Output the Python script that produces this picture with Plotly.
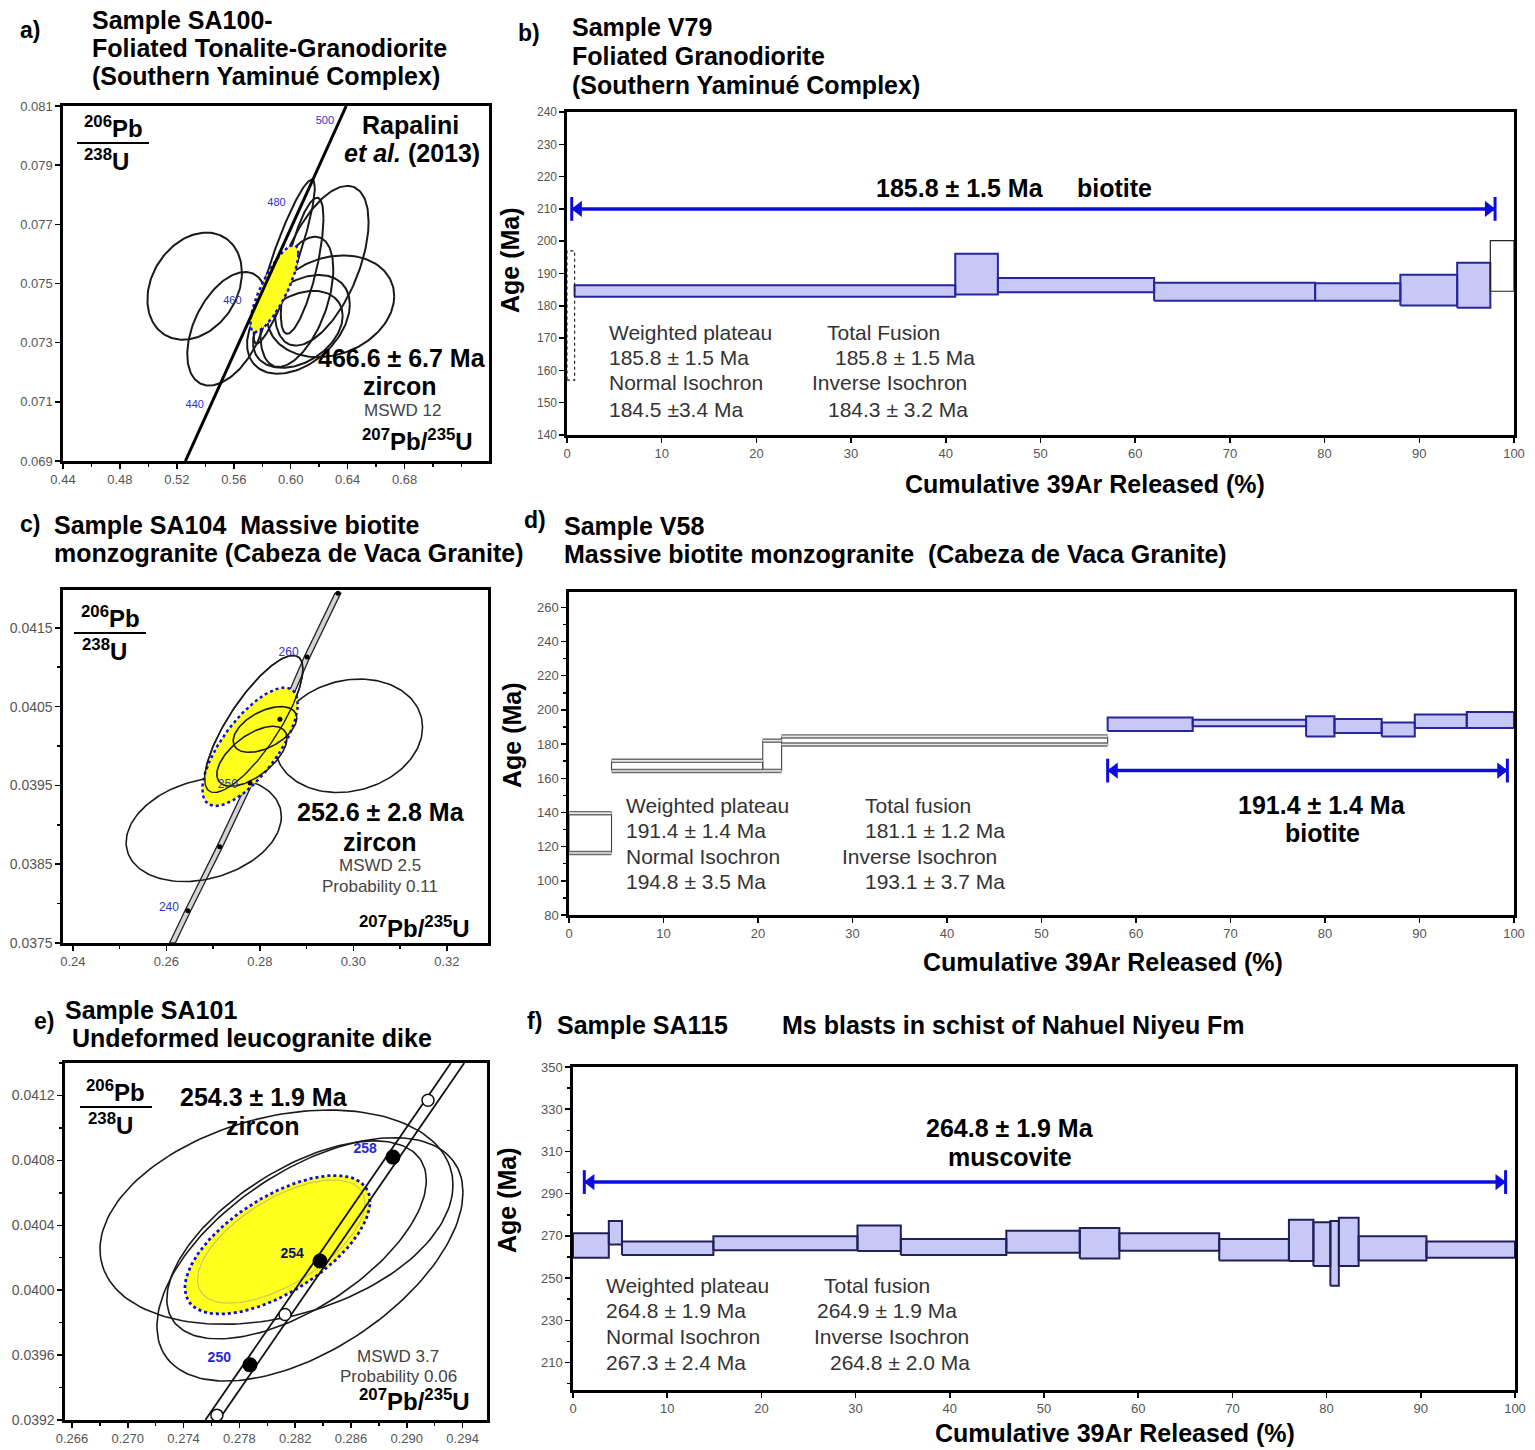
import numpy as np
import plotly.graph_objects as go

W, H = 1535, 1450

# ====================== DATA ======================
# ---- (a) SA100 U-Pb concordia ----
a_conc_x = [0.526, 0.639]
a_conc_y = [0.0690, 0.0810]
a_age_labels = ["440", "460", "480", "500"]
a_age_x = [0.5326, 0.559, 0.590, 0.624]
a_age_y = [0.0709, 0.0744, 0.0777, 0.0805]
a_ell_cx = [0.5325, 0.5553, 0.5954, 0.6217, 0.6080, 0.6280, 0.6043, 0.6054, 0.6050]
a_ell_cy = [0.07491, 0.07347, 0.07574, 0.07560, 0.07560, 0.07423, 0.07438, 0.07362, 0.07345]
a_ell_sx = [0.0332, 0.0280, 0.0215, 0.0330, 0.0150, 0.0447, 0.0256, 0.0361, 0.0315]
a_ell_sy = [0.00181, 0.00192, 0.00277, 0.00270, 0.00230, 0.00172, 0.00220, 0.00167, 0.00130]
a_ell_rho = [0.25, 0.45, 0.90, 0.55, 0.70, 0.20, 0.50, 0.40, 0.35]
a_mean = [0.5885, 0.07483, 0.0169, 0.00147, 0.80]

# ---- (b) V79 Ar-Ar spectrum ----
b_edges = [0, 0.8, 41, 45.5, 62, 79, 88, 94, 97.5, 100]
b_lo = [157, 182.8, 183.5, 184.2, 181.6, 181.6, 180.1, 179.4, 184.5]
b_hi = [197, 186.4, 196.1, 188.6, 187.1, 187.0, 189.6, 193.3, 200.2]
b_plateau_steps = [1, 2, 3, 4, 5, 6, 7]
b_plat_x = [0.5, 98.0]
b_plat_age = 210

# ---- (c) SA104 U-Pb concordia ----
c_conc_x = [0.2613, 0.2646, 0.2714, 0.2779, 0.2843, 0.2901, 0.2967]
c_conc_y = [0.0375, 0.03791, 0.03872, 0.03953, 0.04034, 0.04113, 0.04194]
c_dot_x = [0.2646, 0.2714, 0.2779, 0.2843, 0.2901, 0.2967]
c_dot_y = [0.03791, 0.03872, 0.03953, 0.04034, 0.04113, 0.04194]
c_age_labels = ["240", "250", "260"]
c_age_x = [0.2627, 0.2753, 0.2883]
c_age_y = [0.03794, 0.03950, 0.04118]
c_ell_cx = [0.2990, 0.2680, 0.2787, 0.2811, 0.2783]
c_ell_cy = [0.04013, 0.03894, 0.04028, 0.04021, 0.03987]
c_ell_sx = [0.0158, 0.0166, 0.0105, 0.0068, 0.0075]
c_ell_sy = [0.00072, 0.00066, 0.00087, 0.00029, 0.00038]
c_ell_rho = [0.15, 0.25, 0.80, 0.50, 0.60]
c_mean = [0.2779, 0.03999, 0.0102, 0.00075, 0.72]

# ---- (d) V58 Ar-Ar spectrum ----
d_edges = [0, 4.5, 20.5, 22.5, 57, 66, 78, 81, 86, 89.5, 95, 100]
d_lo = [116.3, 164.3, 164.3, 179.8, 187.7, 190.4, 184.5, 186.5, 184.5, 189.4, 189.4]
d_hi = [139.6, 170.2, 182.0, 184.5, 195.6, 194.3, 196.3, 194.7, 192.7, 197.3, 198.8]
d_plateau_steps = [4, 5, 6, 7, 8, 9, 10]
d_plat_x = [57.0, 99.3]
d_plat_age = 164.5

# ---- (e) SA101 U-Pb concordia ----
e_conc_x = [0.27604, 0.29364]
e_conc_y = [0.0392, 0.0414]
e_full_x = [0.27876, 0.28378, 0.28901]
e_full_y = [0.03954, 0.04018, 0.04082]
e_full_labels = ["250", "254", "258"]
e_open_x = [0.27639, 0.28127, 0.29152]
e_open_y = [0.03923, 0.03985, 0.04117]
e_ell_cx = [0.28066, 0.28306, 0.28210, 0.28100]
e_ell_cy = [0.04045, 0.04019, 0.04031, 0.04030]
e_ell_sx = [0.01265, 0.01097, 0.00930, 0.00600]
e_ell_sy = [0.00066, 0.00075, 0.00061, 0.00038]
e_ell_rho = [0.30, 0.55, 0.60, 0.62]
e_mean = [0.28073, 0.04028, 0.00663, 0.000427, 0.62]

# ---- (f) SA115 Ar-Ar spectrum ----
f_edges = [0, 3.8, 5.2, 14.9, 30.2, 34.8, 46, 53.8, 58, 68.6, 76, 78.6, 80.4, 81.3, 83.4, 90.6, 100]
f_lo = [259.6, 265.9, 260.9, 263.2, 262.8, 260.9, 262.0, 259.3, 263.0, 258.4, 258.1, 255.7, 246.4, 255.7, 258.4, 259.6]
f_hi = [271.3, 277.1, 267.4, 269.8, 274.9, 268.5, 272.4, 273.7, 271.3, 268.5, 277.6, 276.5, 277.1, 278.6, 269.8, 267.4]
f_plat_x = [1.2, 99.0]
f_plat_age = 295.5

# ====================== STYLE ======================
BLUE = "#0c0ce0"
NAVY = "#26269a"
LAV = "rgba(200,200,246,1)"
YEL = "#ffff1e"
FONT = "Liberation Sans, Arial, sans-serif"

fig = go.Figure()

# panel pixel boxes: (x0, x1, y0, y1)
boxes = {
    1: (63, 489, 106, 461),
    2: (567, 1514, 112, 435),
    3: (63, 488, 590, 943),
    4: (569, 1514, 592, 915),
    5: (65, 487, 1063, 1420),
    6: (573, 1515, 1067, 1390),
}


def axn(n, kind):
    return kind if n == 1 else f"{kind}{n}"


def ellipse(cx, cy, sx, sy, rho, n=160):
    t = np.linspace(0, 2 * np.pi, n)
    x = cx + sx * np.cos(t)
    y = cy + sy * (rho * np.cos(t) + np.sqrt(1 - rho ** 2) * np.sin(t))
    return x, y


def add(n, **kw):
    kw.setdefault("showlegend", False)
    kw.setdefault("hoverinfo", "skip")
    fig.add_trace(go.Scatter(xaxis=axn(n, "x"), yaxis=axn(n, "y"), **kw))


def steps_poly(edges, lo, hi, idx):
    xs, ys = [], []
    for i in idx:
        x0, x1 = edges[i], edges[i + 1]
        xs += [x0, x1, x1, x0, x0, None]
        ys += [lo[i], lo[i], hi[i], hi[i], lo[i], None]
    return xs, ys


def steps_horiz(edges, lo, hi, idx):
    xs, ys = [], []
    for i in idx:
        x0, x1 = edges[i], edges[i + 1]
        xs += [x0, x1, None, x0, x1, None]
        ys += [lo[i], lo[i], None, hi[i], hi[i], None]
    return xs, ys


def plateau_arrow(n, xr, y):
    add(n, x=xr, y=[y, y], mode="lines", line=dict(color=BLUE, width=3.5))
    span = 0.7
    add(n, x=[xr[0] + span, xr[1] - span], y=[y, y], mode="markers",
        marker=dict(symbol=["triangle-left", "triangle-right"], size=14, color=BLUE))
    add(n, x=xr, y=[y, y], mode="markers",
        marker=dict(symbol="line-ns", size=17, line=dict(color=BLUE, width=3)))


# ---------------- (a) ----------------
for cx, cy, sx, sy, r in zip(a_ell_cx, a_ell_cy, a_ell_sx, a_ell_sy, a_ell_rho):
    ex, ey = ellipse(cx, cy, sx, sy, r)
    add(1, x=ex, y=ey, mode="lines", line=dict(color="#1a1a1a", width=2))
ex, ey = ellipse(*a_mean)
add(1, x=ex, y=ey, mode="lines", fill="toself", fillcolor=YEL, line=dict(color=BLUE, width=2.5, dash="dot"))
add(1, x=a_conc_x, y=a_conc_y, mode="lines", line=dict(color="black", width=3))

# ---------------- (b) ----------------
xs, ys = steps_poly(b_edges, b_lo, b_hi, b_plateau_steps)
add(2, x=xs, y=ys, mode="lines", fill="toself", fillcolor=LAV, line=dict(color=NAVY, width=2))
xs, ys = steps_poly(b_edges, b_lo, b_hi, [0])
add(2, x=xs, y=ys, mode="lines", line=dict(color="#222", width=1.2, dash="dot"))
xs, ys = steps_poly(b_edges, b_lo, b_hi, [8])
add(2, x=xs, y=ys, mode="lines", line=dict(color="#222", width=1.2))
plateau_arrow(2, b_plat_x, b_plat_age)

# ---------------- (c) ----------------
cx_arr = np.array(c_conc_x)
cy_arr = np.array(c_conc_y)
off = 0.00062
add(3, x=list(cx_arr - off) + list((cx_arr + off)[::-1]) + [cx_arr[0] - off],
    y=list(cy_arr) + list(cy_arr[::-1]) + [cy_arr[0]],
    mode="lines", fill="toself", fillcolor="#d4d4d4", line=dict(color="#222", width=1.3))
for cx, cy, sx, sy, r in zip(c_ell_cx[:3], c_ell_cy[:3], c_ell_sx[:3], c_ell_sy[:3], c_ell_rho[:3]):
    ex, ey = ellipse(cx, cy, sx, sy, r)
    add(3, x=ex, y=ey, mode="lines", line=dict(color="#1a1a1a", width=1.6))
ex, ey = ellipse(*c_mean)
add(3, x=ex, y=ey, mode="lines", fill="toself", fillcolor=YEL, line=dict(color=BLUE, width=2.5, dash="dot"))
for cx, cy, sx, sy, r in zip(c_ell_cx[3:], c_ell_cy[3:], c_ell_sx[3:], c_ell_sy[3:], c_ell_rho[3:]):
    ex, ey = ellipse(cx, cy, sx, sy, r)
    add(3, x=ex, y=ey, mode="lines", line=dict(color="#1a1a1a", width=1.6))
ex, ey = ellipse(c_ell_cx[2], c_ell_cy[2], c_ell_sx[2], c_ell_sy[2], c_ell_rho[2])
add(3, x=ex, y=ey, mode="lines", line=dict(color="#1a1a1a", width=1.4))
add(3, x=c_dot_x, y=c_dot_y, mode="markers", marker=dict(color="black", size=5))
add(3, x=c_age_x, y=c_age_y, mode="text", text=c_age_labels, textposition="middle left",
    textfont=dict(color="#3030d0", size=12, family=FONT))

# ---------------- (d) ----------------
gray_steps = [0, 1, 2, 3]
xs, ys = steps_poly(d_edges, d_lo, d_hi, gray_steps)
add(4, x=xs, y=ys, mode="lines", line=dict(color="#444", width=1.1))
xs, ys = steps_horiz(d_edges, d_lo, d_hi, gray_steps)
add(4, x=xs, y=ys, mode="lines", line=dict(color="#6a6a6a", width=4.5))
add(4, x=xs, y=ys, mode="lines", line=dict(color="#e8e8e8", width=1.6))
xs, ys = steps_poly(d_edges, d_lo, d_hi, d_plateau_steps)
add(4, x=xs, y=ys, mode="lines", fill="toself", fillcolor=LAV, line=dict(color=NAVY, width=2))
plateau_arrow(4, d_plat_x, d_plat_age)

# ---------------- (e) ----------------
for cx, cy, sx, sy, r in zip(e_ell_cx[:3], e_ell_cy[:3], e_ell_sx[:3], e_ell_sy[:3], e_ell_rho[:3]):
    ex, ey = ellipse(cx, cy, sx, sy, r)
    add(5, x=ex, y=ey, mode="lines", line=dict(color="#1a1a1a", width=1.6))
ex, ey = ellipse(*e_mean)
add(5, x=ex, y=ey, mode="lines", fill="toself", fillcolor=YEL, line=dict(color=BLUE, width=2.8, dash="dot"))
ex, ey = ellipse(e_ell_cx[3], e_ell_cy[3], e_ell_sx[3], e_ell_sy[3], e_ell_rho[3])
add(5, x=ex, y=ey, mode="lines", line=dict(color="#c8c860", width=1.2))
ex_arr = np.array(e_conc_x)
ey_arr = np.array(e_conc_y)
eoff = 0.00048
add(5, x=list(ex_arr - eoff), y=list(ey_arr), mode="lines", line=dict(color="#111", width=1.8))
add(5, x=list(ex_arr + eoff), y=list(ey_arr), mode="lines", line=dict(color="#111", width=1.8))
add(5, x=e_open_x, y=e_open_y, mode="markers",
    marker=dict(color="white", size=12, line=dict(color="#111", width=1.5)))
add(5, x=e_full_x, y=e_full_y, mode="markers", marker=dict(color="black", size=15))
add(5, x=[e_full_x[0] - 0.0022, e_full_x[1] - 0.0020, e_full_x[2] - 0.0020],
    y=[e_full_y[0] + 0.00004, e_full_y[1] + 0.00004, e_full_y[2] + 0.00005], mode="text",
    text=["<b>%s</b>" % s for s in e_full_labels],
    textfont=dict(color=["#2828d0", "#101060", "#2828d0"], size=14, family=FONT))

# ---------------- (f) ----------------
xs, ys = steps_poly(f_edges, f_lo, f_hi, range(len(f_lo)))
add(6, x=xs, y=ys, mode="lines", fill="toself", fillcolor=LAV, line=dict(color="#20205a", width=2))
plateau_arrow(6, f_plat_x, f_plat_age)

# a concordia age labels (drawn last)
add(1, x=a_age_x, y=a_age_y, mode="text", text=a_age_labels,
    textfont=dict(color="#3030d0", size=11, family=FONT))

# ====================== AXES ======================
common = dict(showline=True, mirror=True, linecolor="black", linewidth=2.6, showgrid=False,
              zeroline=False, ticks="outside", ticklen=5, tickwidth=1.5, tickcolor="black",
              automargin=False)


def tf(size):
    return dict(family=FONT, size=size, color="#555")


minor_kw = dict(ticks="outside", ticklen=3, tickcolor="black")
axis_specs = {
    1: (dict(range=[0.44, 0.7393], tickvals=[0.44, 0.48, 0.52, 0.56, 0.60, 0.64, 0.68], tickformat=".2f",
             tickfont=tf(13), minor=dict(dtick=0.02, tick0=0.44, **minor_kw)),
        dict(range=[0.069, 0.081], tickvals=[0.069, 0.071, 0.073, 0.075, 0.077, 0.079, 0.081], tickformat=".3f",
             tickfont=tf(13))),
    2: (dict(range=[0, 100], dtick=10, tickfont=tf(13)),
        dict(range=[140, 240], dtick=10, tickfont=tf(12))),
    3: (dict(range=[0.2379, 0.3288], tickvals=[0.24, 0.26, 0.28, 0.30, 0.32], tickformat=".2f",
             tickfont=tf(13), minor=dict(dtick=0.01, tick0=0.24, **minor_kw)),
        dict(range=[0.0375, 0.04198], tickvals=[0.0375, 0.0385, 0.0395, 0.0405, 0.0415], tickformat=".4f",
             tickfont=tf(14), minor=dict(dtick=0.0005, tick0=0.0375, **minor_kw))),
    4: (dict(range=[0, 100], dtick=10, tickfont=tf(13)),
        dict(range=[80, 269], tickvals=list(range(80, 261, 20)), tickfont=tf(13),
             minor=dict(dtick=10, tick0=80, **minor_kw))),
    5: (dict(range=[0.2655, 0.29575], tickvals=[0.266, 0.270, 0.274, 0.278, 0.282, 0.286, 0.290, 0.294],
             tickformat=".3f", tickfont=tf(13), minor=dict(dtick=0.002, tick0=0.266, **minor_kw)),
        dict(range=[0.0392, 0.0414], tickvals=[0.0392, 0.0396, 0.0400, 0.0404, 0.0408, 0.0412], tickformat=".4f",
             tickfont=tf(14), minor=dict(dtick=0.0002, tick0=0.0392, **minor_kw))),
    6: (dict(range=[0, 100], dtick=10, tickfont=tf(13)),
        dict(range=[197, 350], tickvals=list(range(210, 351, 20)), tickfont=tf(13),
             minor=dict(dtick=10, tick0=200, **minor_kw))),
}

layout = dict(width=W, height=H, margin=dict(l=0, r=0, t=0, b=0, pad=0), autosize=False,
              paper_bgcolor="white", plot_bgcolor="white", showlegend=False)
for n, (x0, x1, y0, y1) in boxes.items():
    xs_, ys_ = axis_specs[n]
    xa = dict(common, domain=[x0 / W, x1 / W], anchor=axn(n, "y"), **xs_)
    ya = dict(common, domain=[1 - y1 / H, 1 - y0 / H], anchor=axn(n, "x"), **ys_)
    layout["xaxis" if n == 1 else f"xaxis{n}"] = xa
    layout["yaxis" if n == 1 else f"yaxis{n}"] = ya
fig.update_layout(**layout)

# ====================== TEXT ======================
anns = []
shapes = []


def T(text, px, py, size=25, bold=True, color="black", xa="left", ya="middle", angle=0):
    t = f"<b>{text}</b>" if bold else text
    anns.append(dict(text=t, x=px / W, y=1 - py / H, xref="paper", yref="paper", showarrow=False,
                     xanchor=xa, yanchor=ya, textangle=angle,
                     font=dict(family=FONT, size=size, color=color)))


NB = "\u00a0"
# panel titles
T("a)", 18, 30, size=23)
T("Sample SA100-", 90, 20)
T("Foliated Tonalite-Granodiorite", 90, 48)
T("(Southern Yaminué Complex)", 90, 76)
T("b)", 516, 33, size=23)
T("Sample V79", 570, 27)
T("Foliated Granodiorite", 570, 56)
T("(Southern Yaminué Complex)", 570, 85)
T("c)", 18, 524, size=23)
T("Sample SA104" + NB * 2 + "Massive biotite", 52, 525)
T("monzogranite (Cabeza de Vaca Granite)", 52, 553)
T("d)", 522, 520, size=23)
T("Sample V58", 562, 526)
T("Massive biotite monzogranite" + NB * 2 + "(Cabeza de Vaca Granite)", 562, 554)
T("e)", 32, 1021, size=23)
T("Sample SA101", 63, 1010)
T("Undeformed leucogranite dike", 70, 1038)
T("f)", 525, 1021, size=23)
T("Sample SA115", 555, 1025)
T("Ms blasts in schist of Nahuel Niyeu Fm", 780, 1025)

# Ar-Ar axis titles
for (cxp, cyp), (ayx, ayy) in [((1085, 484), (510, 260)), ((1103, 962), (512, 735)), ((1115, 1433), (507, 1200))]:
    T("Cumulative 39Ar Released (%)", cxp, cyp, size=25, xa="center")
    T("Age" + NB + "(Ma)", ayx, ayy, size=25, xa="center", angle=-90)

# Ar-Ar info blocks
GRY = "#333"
info = [
    ("Weighted plateau", 607, 332), ("185.8 ± 1.5 Ma", 607, 357), ("Normal Isochron", 607, 383),
    ("184.5 ±3.4 Ma", 607, 409), ("Total Fusion", 825, 332), ("185.8 ± 1.5 Ma", 833, 357),
    ("Inverse Isochron", 810, 383), ("184.3 ± 3.2 Ma", 826, 409),
    ("Weighted plateau", 624, 805), ("191.4 ± 1.4 Ma", 624, 830), ("Normal Isochron", 624, 856),
    ("194.8 ± 3.5 Ma", 624, 881), ("Total fusion", 863, 805), ("181.1 ± 1.2 Ma", 863, 830),
    ("Inverse Isochron", 840, 856), ("193.1 ± 3.7 Ma", 863, 881),
    ("Weighted plateau", 604, 1285), ("264.8 ± 1.9 Ma", 604, 1310), ("Normal Isochron", 604, 1336),
    ("267.3 ± 2.4 Ma", 604, 1362), ("Total fusion", 822, 1285), ("264.9 ± 1.9 Ma", 815, 1310),
    ("Inverse Isochron", 812, 1336), ("264.8 ± 2.0 Ma", 828, 1362),
]
for s, px, py in info:
    T(s, px, py, size=21, bold=False, color=GRY)

T("185.8 ± 1.5 Ma", 960, 188, xa="center")
T("biotite", 1075, 188)
T("191.4 ± 1.4 Ma", 1322, 805, xa="center")
T("biotite", 1322, 833, xa="center")
T("264.8 ± 1.9 Ma", 1010, 1128, xa="center")
T("muscovite", 1010, 1157, xa="center")


def frac(px, py):
    T("<sup>206</sup>Pb", px, py - 16, size=24, xa="center")
    T("<sup>238</sup>U", px - 6, py + 17, size=24, xa="center")
    shapes.append(dict(type="line", xref="paper", yref="paper", x0=(px - 36) / W, x1=(px + 36) / W,
                       y0=1 - py / H, y1=1 - py / H, line=dict(color="black", width=1.8)))


frac(113, 143)
frac(110, 633)
frac(116, 1107)

T("Rapalini", 410, 125, xa="center")
T("<i>et al.</i> (2013)", 412, 153, xa="center")
T("466.6 ± 6.7 Ma", 402, 358, xa="center")
T("zircon", 400, 386, xa="center")
T("MSWD 12", 403, 411, size=17, bold=False, color="#444", xa="center")
T("<sup>207</sup>Pb/<sup>235</sup>U", 418, 440, size=24, xa="center")

T("252.6 ± 2.8 Ma", 381, 812, xa="center")
T("zircon", 380, 842, xa="center")
T("MSWD 2.5", 380, 865, size=17, bold=False, color="#444", xa="center")
T("Probability 0.11", 380, 886, size=17, bold=False, color="#444", xa="center")
T("<sup>207</sup>Pb/<sup>235</sup>U", 414, 927, size=24, xa="center")

T("254.3 ± 1.9 Ma", 264, 1097, xa="center")
T("zircon", 263, 1126, xa="center")
T("MSWD 3.7", 398, 1356, size=17, bold=False, color="#444", xa="center")
T("Probability 0.06", 398, 1376, size=17, bold=False, color="#444", xa="center")
T("<sup>207</sup>Pb/<sup>235</sup>U", 414, 1400, size=24, xa="center")

fig.update_layout(annotations=anns, shapes=shapes)
fig.write_html(
    "out.html",
    config={"displayModeBar": False, "staticPlot": True},
    post_script="document.body.style.margin='0';document.body.style.padding='0';"
                "document.body.style.overflow='hidden';",
)
